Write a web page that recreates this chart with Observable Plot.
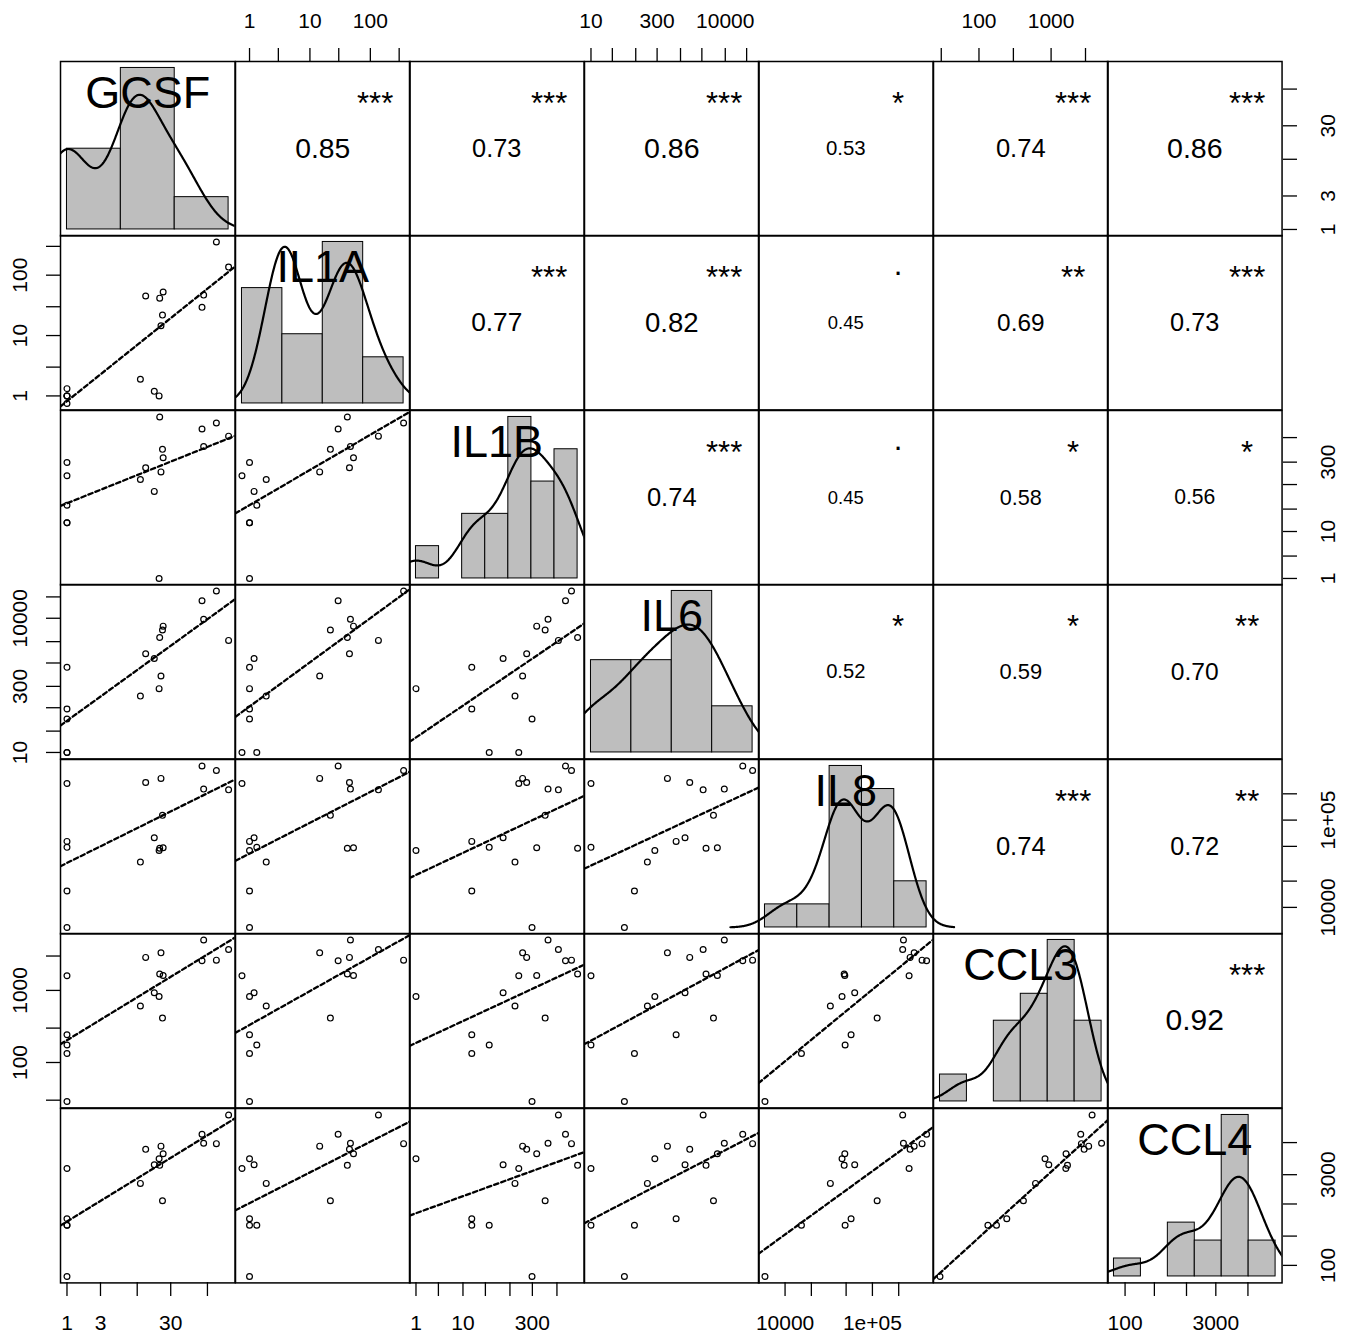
<!DOCTYPE html>
<html>
<head>
<meta charset="utf-8">
<script src="https://cdn.jsdelivr.net/npm/d3@7"></script>
<script src="https://cdn.jsdelivr.net/npm/@observablehq/plot@0.6"></script>
<style>
  body { margin: 0; background: #fff; }
  #chart { position: relative; width: 1345px; height: 1335px; background: #fff; overflow: hidden; }
  #chart svg { position: absolute; overflow: visible; }
</style>
</head>
<body>
<div id="chart"></div>
<script>
// ---------------- data ----------------
const variables = ["GCSF", "IL1A", "IL1B", "IL6", "IL8", "CCL3", "CCL4"];

// 17 samples (same order in every array)
const GCSF = [1, 1, 1, 1, 1, 11.1, 13.2, 17.5, 20.5, 20.9, 21.8, 22.9, 23.4, 83.7, 88.3, 134, 200];
const IL1A = [1.32, 1, 1, 1, 0.75, 1.89, 45.1, 1.19, 1, 41.6, 14.5, 21.8, 52.6, 29.3, 46.8, 355, 136];
const IL1B = [36.2, 15.4, 15.4, 295, 154, 128, 227, 71.5, 1, 2750, 186, 561, 371, 1520, 646, 2040, 1073];
const IL6  = [10, 798, 93.5, 55.8, 10, 182, 1607, 1262, 267, 3715, 510, 5445, 6655, 24550, 9510, 40740, 3200];
const IL8  = [48700, 57000, 15400, 5890, 263000, 33000, 270000, 62700, 44900, 47500, 300500, 113300, 48300, 417000, 226500, 370000, 222000];
const CCL3 = [175, 243, 133, 28.8, 1600, 608, 2870, 929, 824, 1687, 3318, 413, 1611, 2576, 5012, 2630, 3700];
const CCL4 = [451, 574, 451, 66, 3793, 2163, 7762, 4365, 5458, 4256, 8750, 1130, 6590, 13700, 9772, 9600, 28180];

// histogram breaks (log10 units)
const breaksGCSF = [0, 1, 2, 3];
const breaksIL1A = [-1, 0, 1, 2, 3];
const breaksIL1B = [0, 0.5, 1, 1.5, 2, 2.5, 3, 3.5];
const breaksIL6  = [1, 2, 3, 4, 5];
const breaksIL8  = [3.5, 4, 4.5, 5, 5.5, 6];
const breaksCCL3 = [1, 1.5, 2, 2.5, 3, 3.5, 4];
const breaksCCL4 = [1.5, 2, 2.5, 3, 3.5, 4, 4.5];

// axis ticks and tick labels
const ticksGCSF = [1, 3, 10, 30, 100];
const labelsGCSF = ["1", "3", "", "30", ""];
const ticksIL1A = [1, 3, 10, 30, 100, 300];
const labelsIL1A = ["1", "", "10", "", "100", ""];
const ticksIL1B = [1, 3, 10, 30, 100, 300, 1000];
const labelsIL1B = ["1", "", "10", "", "", "300", ""];
const ticksIL6 = [10, 30, 100, 300, 1000, 3000, 10000, 30000];
const labelsIL6 = ["10", "", "", "300", "", "", "10000", ""];
const ticksIL8 = [10000, 20000, 50000, 100000, 200000];
const labelsIL8 = ["10000", "", "", "1e+05", ""];
const ticksCCL3 = [30, 100, 300, 1000, 3000];
const labelsCCL3 = ["", "100", "", "1000", ""];
const ticksCCL4 = [100, 300, 1000, 3000, 10000];
const labelsCCL4 = ["100", "", "", "3000", ""];

// correlations (upper triangle, row by row) and significance codes
const corrValues = [0.85, 0.73, 0.86, 0.53, 0.74, 0.86,
                    0.77, 0.82, 0.45, 0.69, 0.73,
                    0.74, 0.45, 0.58, 0.56,
                    0.52, 0.59, 0.70,
                    0.74, 0.72,
                    0.92];
const corrStars = ["***", "***", "***", "*", "***", "***",
                   "***", "***", ".", "**", "***",
                   "***", ".", "*", "*",
                   "*", "*", "**",
                   "***", "**",
                   "***"];

// ---------------- lookups ----------------
const values = {GCSF, IL1A, IL1B, IL6, IL8, CCL3, CCL4};
const breaks = {GCSF: breaksGCSF, IL1A: breaksIL1A, IL1B: breaksIL1B, IL6: breaksIL6, IL8: breaksIL8, CCL3: breaksCCL3, CCL4: breaksCCL4};
const tickVals = {GCSF: ticksGCSF, IL1A: ticksIL1A, IL1B: ticksIL1B, IL6: ticksIL6, IL8: ticksIL8, CCL3: ticksCCL3, CCL4: ticksCCL4};
const tickLabs = {GCSF: labelsGCSF, IL1A: labelsIL1A, IL1B: labelsIL1B, IL6: labelsIL6, IL8: labelsIL8, CCL3: labelsCCL3, CCL4: labelsCCL4};
const N = GCSF.length;
const rows = d3.range(N).map(k => Object.fromEntries(variables.map(v => [v, values[v][k]])));

// ---------------- geometry ----------------
const X0 = 60, Y0 = 61, W = 1222 / 7, H = 1221 / 7;
const FONT = '"Liberation Sans", Arial, Helvetica, sans-serif';
const baseStyle = {background: "transparent", overflow: "visible", fontFamily: FONT, fontSize: "21px", color: "black"};

function logDomain(v) {
  const [a, b] = d3.extent(values[v], d => Math.log10(d));
  const e = (b - a) * 0.04;
  return [10 ** (a - e), 10 ** (b + e)];
}

function bwNrd0(x) {
  const sd = d3.deviation(x);
  const iqr = d3.quantile(x, 0.75) - d3.quantile(x, 0.25);
  let lo = Math.min(sd, iqr / 1.34);
  if (!lo) lo = sd || Math.abs(x[0]) || 1;
  return 0.9 * lo * Math.pow(x.length, -0.2);
}

function kde(x) {
  const bw = bwNrd0(x);
  const [a, b] = d3.extent(x);
  const from = a - 3 * bw, to = b + 3 * bw;
  return d3.range(512).map(k => {
    const t = from + (to - from) * k / 511;
    const y = d3.sum(x, v => Math.exp(-0.5 * ((t - v) / bw) ** 2)) / (x.length * bw * Math.sqrt(2 * Math.PI));
    return {x: t, y};
  });
}

function histBins(v) {
  const lv = values[v].map(d => Math.log10(d));
  const br = breaks[v];
  return d3.range(br.length - 1).map(k => {
    const lo = br[k], hi = br[k + 1];
    const count = lv.filter(d => (d > lo || (k === 0 && d >= lo)) && d <= hi + 1e-12).length;
    return {x0: lo, x1: hi, density: count / (lv.length * (hi - lo))};
  });
}

function place(svg, left, top) {
  svg.style.left = left + "px";
  svg.style.top = top + "px";
  document.getElementById("chart").appendChild(svg);
}

const frame = () => Plot.frame({stroke: "black", strokeWidth: 1.5});

// ---------------- panels ----------------
function scatterPanel(i, j) {
  const vx = variables[j], vy = variables[i];
  const lx = values[vx].map(Math.log10), ly = values[vy].map(Math.log10);
  const mx = d3.mean(lx), my = d3.mean(ly);
  const b = d3.sum(lx, (d, k) => (d - mx) * (ly[k] - my)) / d3.sum(lx, d => (d - mx) ** 2);
  const a = my - b * mx;
  const dx = logDomain(vx);
  const fit = dx.map(x => ({x, y: 10 ** (a + b * Math.log10(x))}));
  return Plot.plot({
    width: W, height: H, margin: 0, style: baseStyle,
    x: {type: "log", domain: dx, axis: null},
    y: {type: "log", domain: logDomain(vy), axis: null},
    marks: [
      Plot.line(fit, {x: "x", y: "y", stroke: "black", strokeWidth: 2.3, strokeDasharray: "4.5,3", clip: true}),
      Plot.dot(rows, {x: vx, y: vy, r: 2.9, stroke: "black", strokeWidth: 1.2, fill: "none"}),
      frame()
    ]
  });
}

function histPanel(i) {
  const v = variables[i];
  const br = breaks[v];
  const e = (br[br.length - 1] - br[0]) * 0.04;
  const bins = histBins(v);
  const M = d3.max(bins, d => d.density);
  const dens = kde(values[v].map(Math.log10));
  return Plot.plot({
    width: W, height: H, margin: 0, style: baseStyle,
    x: {domain: [br[0] - e, br[br.length - 1] + e], axis: null},
    y: {domain: [-0.04 * M, 1.04 * M], axis: null},
    marks: [
      Plot.rect(bins, {x1: "x0", x2: "x1", y1: 0, y2: "density", fill: "#bebebe", stroke: "black", strokeWidth: 1}),
      Plot.line(dens, {x: "x", y: "y", stroke: "black", strokeWidth: 2.2, clip: v !== "IL8"}),
      Plot.text([v], {text: d => d, frameAnchor: "top", dy: 32, lineAnchor: "middle", fontSize: 45, fill: "black"}),
      frame()
    ]
  });
}

let corrIndex = 0;
function corrPanel(i, j) {
  const r = corrValues[corrIndex], s = corrStars[corrIndex];
  corrIndex++;
  const size = 32 * (Math.abs(r) + 0.3) / 1.3;
  return Plot.plot({
    width: W, height: H, margin: 0, style: baseStyle,
    x: {domain: [0, 1], axis: null},
    y: {domain: [0, 1], axis: null},
    marks: [
      Plot.text([{x: 0.5, y: 0.5, t: r.toFixed(2)}], {x: "x", y: "y", text: "t", fontSize: size, lineAnchor: "middle", fill: "black"}),
      Plot.text([{x: 0.8, y: 0.8, t: s}], {x: "x", y: "y", text: "t", fontSize: 31, lineAnchor: "middle", dy: s === "." ? -5 : 8, fill: "black"}),
      frame()
    ]
  });
}

// ---------------- axes ----------------
function axisPlot(v, side) {
  const ticks = tickVals[v];
  const tickData = ticks.map((t, k) => ({t, l: tickLabs[v][k]})).filter(d => d.l !== "");
  const blank = () => "";
  if (side === "top" || side === "bottom") {
    return Plot.plot({
      width: W, height: 61, marginLeft: 0, marginRight: 0,
      marginTop: side === "top" ? 60 : 1, marginBottom: side === "top" ? 1 : 60,
      style: baseStyle,
      x: {type: "log", domain: logDomain(v), label: null},
      marks: [
        Plot.axisX({anchor: side, ticks, tickSize: 14, tickFormat: blank, label: null, strokeWidth: 1.3}),
        Plot.text(tickData, {x: "t", text: "l", frameAnchor: side, textAnchor: "middle",
          dy: side === "top" ? -33 : 33, lineAnchor: side === "top" ? "bottom" : "top", fontSize: 21, fill: "black"})
      ]
    });
  }
  return Plot.plot({
    width: 61, height: H, marginTop: 0, marginBottom: 0,
    marginLeft: side === "left" ? 60 : 1, marginRight: side === "left" ? 1 : 60,
    style: baseStyle,
    y: {type: "log", domain: logDomain(v), label: null},
    marks: [
      Plot.axisY({anchor: side, ticks, tickSize: 14, tickFormat: blank, label: null, strokeWidth: 1.3}),
      Plot.text(tickData, {y: "t", text: "l", frameAnchor: side, rotate: -90, textAnchor: "middle",
        dx: side === "left" ? -34 : 38, lineAnchor: side === "left" ? "bottom" : "top", fontSize: 21, fill: "black"})
    ]
  });
}

// ---------------- assemble ----------------
for (let i = 0; i < 7; i++) {
  for (let j = 0; j < 7; j++) {
    let svg;
    if (i === j) svg = histPanel(i);
    else if (i > j) svg = scatterPanel(i, j);
    else svg = corrPanel(i, j);
    place(svg, X0 + j * W, Y0 + i * H);
  }
}

for (let j = 0; j < 7; j++) {
  const v = variables[j];
  if (j % 2 === 1) place(axisPlot(v, "top"), X0 + j * W, Y0 - 60);
  else place(axisPlot(v, "bottom"), X0 + j * W, Y0 + 7 * H - 1);
}
for (let i = 0; i < 7; i++) {
  const v = variables[i];
  if (i % 2 === 1) place(axisPlot(v, "left"), X0 - 60, Y0 + i * H);
  else place(axisPlot(v, "right"), X0 + 7 * W - 1, Y0 + i * H);
}
</script>
</body>
</html>
